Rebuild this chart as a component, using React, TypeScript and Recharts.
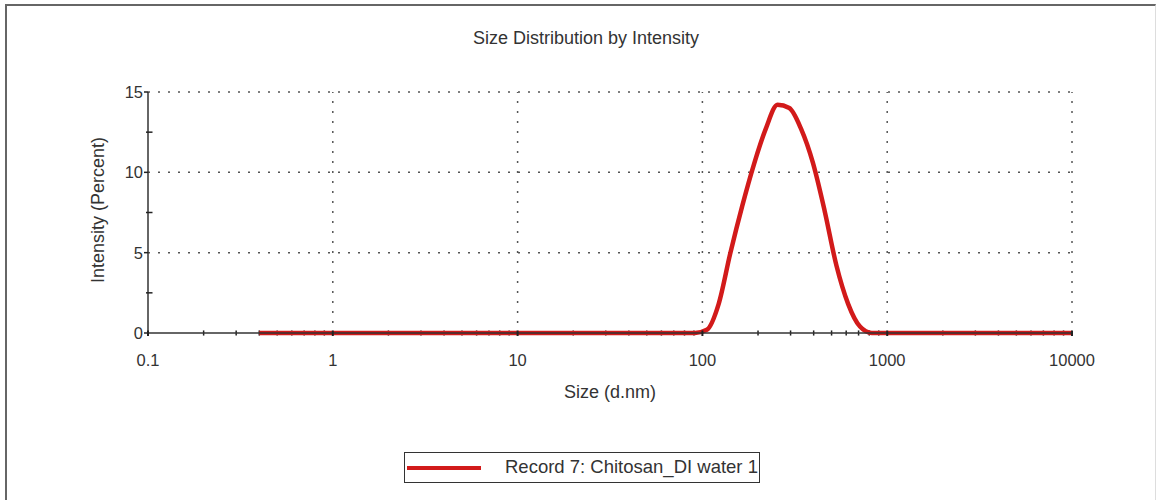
import React from "react";
import { Legend, Line, LineChart, ReferenceLine, XAxis, YAxis } from "recharts";

// DLS bins (d.nm) and intensity (%)
const sizes = [
  0.4, 0.4632, 0.5365, 0.6213, 0.7195, 0.8332, 0.9649, 1.117, 1.294, 1.499,
  1.736, 2.01, 2.328, 2.696, 3.122, 3.615, 4.187, 4.849, 5.615, 6.503,
  7.531, 8.721, 10.1, 11.7, 13.54, 15.69, 18.17, 21.04, 24.36, 28.21,
  32.67, 37.84, 43.82, 50.75, 58.77, 68.06, 78.82, 91.28, 105.7, 122.4,
  141.8, 164.2, 190.1, 220.2, 255, 295.3, 342, 396.1, 458.7, 531.2,
  615.1, 712.4, 825, 955.4, 1106, 1281, 1484, 1718, 1990, 2305,
  2669, 3091, 3580, 4145, 4801, 5560, 6439, 7456, 8635, 10000,
];
const intensity = [
  0, 0, 0, 0, 0, 0, 0, 0, 0, 0,
  0, 0, 0, 0, 0, 0, 0, 0, 0, 0,
  0, 0, 0, 0, 0, 0, 0, 0, 0, 0,
  0, 0, 0, 0, 0, 0, 0, 0, 0.2, 1.8,
  5.0, 7.9, 10.5, 12.7, 14.2, 14.0, 12.7, 10.6, 7.6, 4.2,
  1.8, 0.4, 0, 0, 0, 0, 0, 0, 0, 0,
  0, 0, 0, 0, 0, 0, 0, 0, 0, 0,
];

const xMajor = [0.1, 1, 10, 100, 1000, 10000];
const xMinorSteps = [2, 3, 4, 5, 6, 7, 8, 9];
const yMajor = [0, 5, 10, 15];
const yMinor = [2.5, 7.5, 12.5];
const seriesName = "Record 7: Chitosan_DI water 1";

const data = sizes.map((s, i) => ({ size: s, intensity: intensity[i] }));
const xMinor = xMajor.slice(0, -1).flatMap((d) => xMinorSteps.map((m) => +(d * m).toPrecision(3)));
const yTicks = [...yMajor, ...yMinor].sort((a, b) => a - b);

const font = "'Liberation Sans', Arial, sans-serif";
const ink = "#333";
const red = "#d21a1a";
const dotted = { stroke: "#555", strokeWidth: 1.5, strokeDasharray: "2 8" };

const XTick = (props: any) => {
  const { x, y, payload } = props;
  return (
    <g>
      <line x1={x} x2={x} y1={y - 2.5} y2={y + 3} stroke="#222" strokeWidth={2} />
      <text x={x} y={y + 33} textAnchor="middle" fontSize={16.5} fontFamily={font} fill={ink}>
        {payload.value}
      </text>
    </g>
  );
};

const YTick = (props: any) => {
  const { x, y, payload } = props;
  const major = yMajor.includes(payload.value);
  if (!major) {
    return <line x1={x - 2} x2={x + 4.5} y1={y} y2={y} stroke="#222" strokeWidth={1.5} />;
  }
  return (
    <g>
      <line x1={x - 4} x2={x} y1={y} y2={y} stroke="#222" strokeWidth={1.5} />
      <text x={x - 5} y={y + 6} textAnchor="end" fontSize={16.5} fontFamily={font} fill={ink}>
        {payload.value}
      </text>
    </g>
  );
};

const LegendBox = (props: any) => {
  const item = props.payload?.[0];
  return (
    <div
      style={{
        position: "relative",
        width: 356,
        height: 31,
        border: "1.5px solid #333",
        boxSizing: "border-box",
        background: "#fff",
        fontFamily: font,
      }}
    >
      <div style={{ position: "absolute", left: 2, top: 12.5, width: 74, height: 4.5, background: red }} />
      <span
        style={{ position: "absolute", left: 100, top: 3, fontSize: 18.5, color: ink, whiteSpace: "nowrap" }}
      >
        {item ? item.value : seriesName}
      </span>
    </div>
  );
};

export default function App() {
  return (
    <div style={{ position: "absolute", left: 0, top: 0, width: 1159, height: 500, overflow: "hidden", background: "#fff" }}>
      <div
        style={{
          position: "absolute",
          left: 5,
          top: 4,
          width: 1151,
          height: 520,
          borderTop: "2.5px solid #666",
          borderLeft: "2.5px solid #666",
          borderRight: "1px solid #ddd",
          boxSizing: "border-box",
        }}
      />
      <LineChart
        width={1159}
        height={500}
        data={data}
        margin={{ top: 92, right: 87, bottom: 127, left: 0 }}
        style={{ position: "absolute", left: 0, top: 0 }}
      >
        {[1, 10, 100, 1000, 10000].map((v) => (
          <ReferenceLine key={"gx" + v} x={v} {...dotted} />
        ))}
        {[5, 10, 15].map((v) => (
          <ReferenceLine key={"gy" + v} y={v} {...dotted} />
        ))}
        {xMinor.map((v) => (
          <ReferenceLine
            key={"mx" + v}
            segment={[{ x: v, y: -0.16 }, { x: v, y: 0.16 }]}
            ifOverflow="visible"
            stroke="#222"
            strokeWidth={1.5}
          />
        ))}
        <XAxis
          dataKey="size"
          type="number"
          scale="log"
          domain={[0.1, 10000]}
          ticks={xMajor}
          interval={0}
          allowDataOverflow
          height={40}
          tickSize={0}
          tickMargin={0}
          tickLine={false}
          axisLine={{ stroke: "#333", strokeWidth: 1.5 }}
          tick={<XTick />}
        />
        <YAxis
          type="number"
          domain={[0, 15]}
          ticks={yTicks}
          interval={0}
          width={148}
          tickSize={0}
          tickMargin={0}
          tickLine={false}
          axisLine={{ stroke: "#333", strokeWidth: 1.5 }}
          tick={<YTick />}
        />
        <Line
          type="monotone"
          dataKey="intensity"
          name={seriesName}
          stroke={red}
          strokeWidth={4.5}
          dot={false}
          activeDot={false}
          isAnimationActive={false}
        />
        <Legend
          verticalAlign="middle"
          align="center"
          content={<LegendBox />}
          wrapperStyle={{ top: 452, left: 404, width: 356, height: 31 }}
        />
        <text x={586} y={44} textAnchor="middle" fontSize={18} fontFamily={font} fill={ink}>
          Size Distribution by Intensity
        </text>
        <text x={610} y={398} textAnchor="middle" fontSize={18} fontFamily={font} fill={ink}>
          Size (d.nm)
        </text>
        <text
          x={98}
          y={210}
          transform="rotate(-90 98 210)"
          textAnchor="middle"
          dominantBaseline="central"
          fontSize={18}
          fontFamily={font}
          fill={ink}
        >
          Intensity (Percent)
        </text>
      </LineChart>
    </div>
  );
}
